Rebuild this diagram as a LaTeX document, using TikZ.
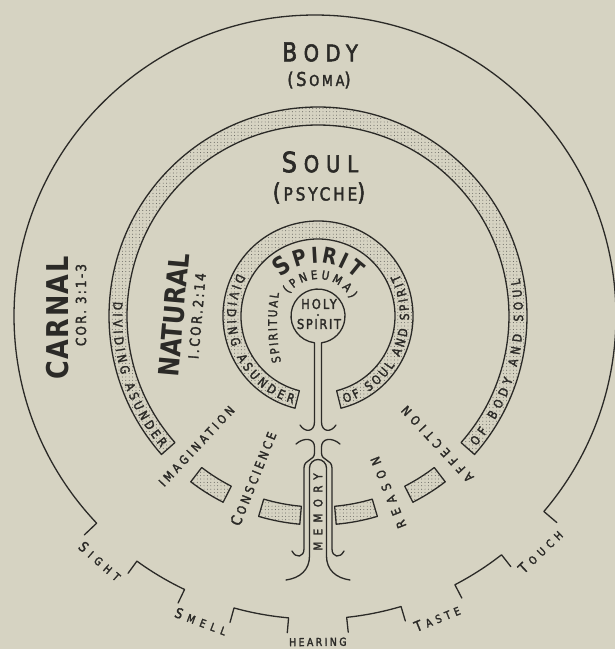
\documentclass[tikz,border=0pt]{standalone}
\usepackage{fontspec}
\setmainfont{DejaVu Sans}
\newfontfamily\handFont[FakeStretch=0.85, FakeBold=2.2]{DejaVu Sans}
\newfontfamily\heavyFont[FakeStretch=0.85]{DejaVu Sans Bold}
\newcommand{\spaced}[1]{\addfontfeature{LetterSpace=#1}}
\newcommand{\sized}[3]{{\fontsize{#1}{#1}\selectfont #3}\kern#2pt\relax}
\usetikzlibrary{decorations.text, patterns.meta}

\begin{document}
\begin{tikzpicture}[x=1pt, y=1pt,
    ink/.style={draw=inkColour, line width=1.3pt, line cap=round, line join=round},
    stipple/.style={ink, pattern={Dots[distance=3.4pt, radius=0.45pt]}, pattern color=inkColour!85},
    lettering/.style={text=inkColour, inner sep=0pt},
    bandText/.style={decorate, decoration={text along path, text align=fit to path, text color=inkColour,
        text={|\handFont\fontsize{12.5}{12.5}\selectfont|#1}}}]
    % Define colours
    \definecolor{inkColour}{HTML}{2B2A27}
    \definecolor{paperColour}{HTML}{D6D3C2}

    % Define radii
    \def\outerRadius{301}
    \def\soulOuter{209}
    \def\soulInner{191}
    \def\spiritOuter{95}
    \def\spiritInner{77}

    % Paper
    \fill[paperColour] (-318,-333) rectangle (297,316);
    \useasboundingbox (-318,-333) rectangle (297,316);

    % Body circle, broken by the five senses
    \begin{scope}[shift={(-3,0)}]
        \draw[ink] (223.5:318) -- (223.5:\outerRadius) arc[start angle=223.5, end angle=-40.5, radius=\outerRadius] -- (-40.5:318);
        \foreach \a [evaluate=\a as \b using \a+10.5] in {234,254.5,276,297.5}
            \draw[ink] (\a:318) -- (\a:303) arc[start angle=\a, end angle=\b, radius=303] -- (\b:318);
        % Label the senses
        \foreach \senseName/\senseLabel/\ang/\senseGap in {sight/{\sized{14}{5.2}{S}IGHT}/228.75/47, smell/{\sized{14}{5.5}{S}MELL}/249.5/50,
                hearing/{HEARING}/270.5/22, taste/{\sized{14}{4.2}{T}ASTE}/292/38, touch/{\sized{14}{5}{T}OUCH}/313.75/45}
            \node (\senseName) [lettering, rotate=\ang+90, font=\handFont\fontsize{11}{11}\selectfont\spaced{\senseGap}] at (\ang:326) {\senseLabel};
    \end{scope}

    % Soul band and its broken pieces
    \draw[stipple] (-41.5:\soulOuter) arc[start angle=-41.5, end angle=221.5, radius=\soulOuter]
        -- (221.5:\soulInner) arc[start angle=221.5, end angle=-41.5, radius=\soulInner] -- cycle;
    \foreach \a/\b in {232.5/243, 253.5/265, 275/286.5, 297/307.5}
        \draw[stipple] (\a:\soulOuter) arc[start angle=\a, end angle=\b, radius=\soulOuter]
            -- (\b:\soulInner) arc[start angle=\b, end angle=\a, radius=\soulInner] -- cycle;
    \path[bandText={DIVIDING ASUNDER}] (176:205) arc[start angle=176, end angle=220, radius=205];
    \path[bandText={OF BODY AND SOUL}] (-39.5:205) arc[start angle=-39.5, end angle=10.5, radius=205];

    % Spirit band
    \draw[stipple] (-76:\spiritOuter) arc[start angle=-76, end angle=256, radius=\spiritOuter]
        -- (256:\spiritInner) arc[start angle=256, end angle=-76, radius=\spiritInner] -- cycle;
    \path[bandText={DIVIDING ASUNDER}] (152:91) arc[start angle=152, end angle=254, radius=91];
    \path[bandText={OF SOUL AND SPIRIT}] (287:91) arc[start angle=287, end angle=387.5, radius=91];

    % Spirit lettering round the holy circle
    \path[decorate, decoration={text along path, text align=fit to path, text color=inkColour,
        text={|\heavyFont\fontsize{25}{25}\selectfont|S|\heavyFont\fontsize{22}{22}\selectfont|PIRIT}}]
        (134:53) arc[start angle=134, end angle=44, radius=53];
    \path[decorate, decoration={text along path, text align=fit to path, text color=inkColour,
        text={|\handFont\fontsize{12}{12}\selectfont|(PNEUMA)}}]
        (143:37) arc[start angle=143, end angle=28, radius=37];
    \path[decorate, decoration={text along path, text align=fit to path, text color=inkColour,
        text={|\handFont\fontsize{12}{12}\selectfont|SPIRITUAL}}]
        (-37,-46) .. controls (-42,-23) and (-42,2) .. (-39,23);

    % Holy spirit circle and stem
    \draw[ink] (-18,-109) .. controls (-13,-117) and (-3.5,-116) .. (-3.5,-106) -- (-3.5,-26.8)
        arc[start angle=262.5, end angle=-82.5, radius=27] -- (3.5,-106) .. controls (3.5,-116) and (13,-117) .. (18,-109);
    \fill[inkColour] (0,1) circle (1.2);
    \node (holy) [lettering, font=\handFont\fontsize{13.5}{13.5}\selectfont\spaced{15}] at (1,12) {HOLY};
    \node (holySpirit) [lettering, font=\handFont\fontsize{13.5}{13.5}\selectfont\spaced{12}] at (1,-8) {SPIRIT};

    % Memory stem
    \draw[ink] (-22,-128) .. controls (-14,-121) and (-3.5,-122) .. (-3.5,-131) -- (-3.5,-137)
        .. controls (-3.5,-145) and (-14,-143) .. (-14,-152) -- (-14,-233) .. controls (-14,-241) and (-22,-243) .. (-26,-235);
    \draw[ink] (22,-128) .. controls (14,-121) and (3.5,-122) .. (3.5,-131) -- (3.5,-137)
        .. controls (3.5,-145) and (14,-143) .. (14,-152) -- (14,-233) .. controls (14,-241) and (22,-243) .. (26,-235);
    \draw[ink] (-32,-264) .. controls (-18,-262) and (-8.5,-254) .. (-8.5,-240) -- (-8.5,-152)
        arc[start angle=180, end angle=0, radius=8.5] -- (8.5,-240) .. controls (8.5,-254) and (18,-262) .. (32,-264);
    \node (memory) [lettering, rotate=90, font=\handFont\fontsize{12}{12}\selectfont\spaced{54}] at (0,-196) {MEMORY};

    % Faculties of the soul
    \node (imagination) [lettering, rotate=47, font=\handFont\fontsize{12}{12}\selectfont\spaced{30}] at (227:178) {IMAGINATION};
    \node (conscience) [lettering, rotate=68.25, font=\handFont\fontsize{12.5}{12.5}\selectfont\spaced{25}] at (248.25:175) {\sized{15}{3.1}{C}ONSCIENCE};
    \node (reason) [lettering, rotate=111.75, font=\handFont\fontsize{12.5}{12.5}\selectfont\spaced{50}] at (291.75:190) {REASON};
    \node (affection) [lettering, rotate=133, font=\handFont\fontsize{12.5}{12.5}\selectfont\spaced{39}] at (313:175) {AFFECTION};

    % Titles
    \node (body) [lettering, font=\handFont\fontsize{23}{23}\selectfont\spaced{28}] at (2,264) {\sized{26}{6.4}{B}ODY};
    \node (soma) [lettering, font=\handFont\fontsize{15}{15}\selectfont\spaced{18}] at (1,236) {\sized{19}{2.7}{(}\sized{19}{2.7}{S}OMA\sized{19}{0}{)}};
    \node (soul) [lettering, font=\handFont\fontsize{23}{23}\selectfont\spaced{30}] at (2,154) {\sized{28}{6.9}{S}OUL};
    \node (psyche) [lettering, font=\handFont\fontsize{18}{18}\selectfont\spaced{16}] at (1,123) {\sized{24}{2.9}{(}PSYCHE\sized{24}{0}{)}};

    % Carnal and natural man
    \node (carnal) [lettering, rotate=90, font=\heavyFont\fontsize{30}{30}\selectfont\spaced{5}] at (-260,-2) {CARNAL};
    \node (carnalRef) [lettering, rotate=90, font=\handFont\fontsize{14}{14}\selectfont\spaced{16}] at (-237,11) {COR. 3:1-3};
    \node (natural) [lettering, rotate=85, font=\heavyFont\fontsize{28}{28}\selectfont] at (-144,1) {NATURAL};
    \node (naturalRef) [lettering, rotate=85, font=\handFont\fontsize{14}{14}\selectfont\spaced{18}] at (-121,0) {I.COR.2:14};
\end{tikzpicture}
\end{document}
